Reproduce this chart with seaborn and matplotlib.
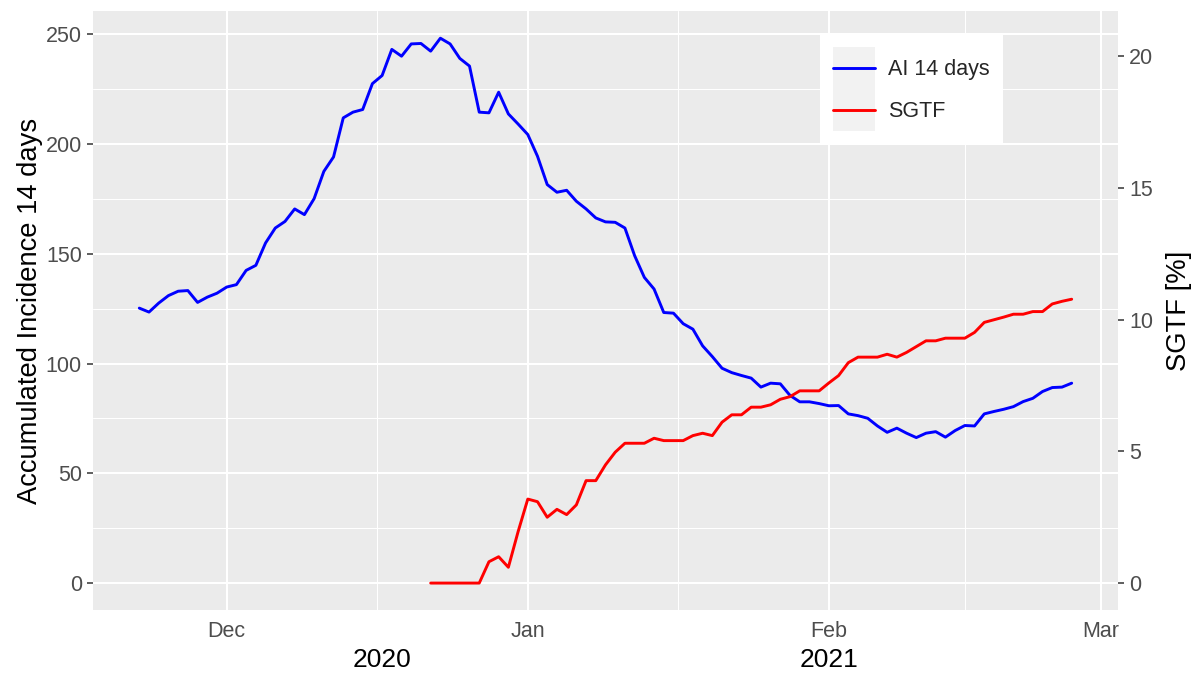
import pandas as pd
import numpy as np
import matplotlib
matplotlib.use("Agg")
import matplotlib.pyplot as plt
import matplotlib.dates as mdates
from matplotlib.ticker import FixedLocator, MultipleLocator
from matplotlib.patches import Patch
from matplotlib.lines import Line2D
from matplotlib.legend_handler import HandlerTuple, HandlerLine2D
import seaborn as sns

# ---------------- data ----------------
ai_start = "2020-11-22"
ai_14 = [
    # Nov 22 - Nov 30
    125.3, 123.5, 127.6, 131.0, 133.0, 133.3, 127.9, 130.3, 132.1,
    # Dec
    134.9, 136.0, 142.5, 144.8, 155.0, 161.8, 164.8, 170.5, 167.9, 175.2,
    187.6, 194.2, 212.0, 214.6, 215.8, 227.6, 231.3, 243.2, 240.1, 245.7,
    245.9, 242.4, 248.3, 245.7, 239.1, 235.6, 214.6, 214.3, 223.7, 213.8,
    209.2,
    # Jan
    204.4, 194.5, 181.6, 178.1, 179.0, 174.0, 170.5, 166.4, 164.6, 164.4,
    161.8, 149.2, 139.3, 134.0, 123.3, 123.0, 118.2, 115.7, 108.1, 103.2,
    97.9, 95.9, 94.6, 93.4, 89.3, 91.1, 90.8, 85.5, 82.6, 82.6, 81.8,
    # Feb 1 - Feb 26
    80.8, 80.9, 77.1, 76.3, 75.1, 71.6, 68.7, 70.6, 68.3, 66.3,
    68.3, 69.0, 66.5, 69.5, 71.8, 71.6, 77.1, 78.2, 79.2, 80.4,
    82.7, 84.2, 87.3, 89.1, 89.3, 91.1,
]

sgtf_start = "2020-12-22"
sgtf = [
    # Dec 22 - Dec 31
    0.0, 0.0, 0.0, 0.0, 0.0, 0.0, 0.81, 1.0, 0.6, 1.95,
    # Jan
    3.19, 3.09, 2.5, 2.8, 2.6, 2.97, 3.89, 3.89, 4.49, 4.97,
    5.31, 5.31, 5.31, 5.5, 5.41, 5.41, 5.41, 5.6, 5.69, 5.6,
    6.11, 6.39, 6.39, 6.68, 6.68, 6.77, 6.98, 7.08, 7.3, 7.3, 7.3,
    # Feb 1 - Feb 26
    7.6, 7.88, 8.37, 8.58, 8.58, 8.58, 8.69, 8.58, 8.76, 8.98,
    9.2, 9.2, 9.3, 9.3, 9.3, 9.52, 9.9, 10.0, 10.1, 10.21,
    10.21, 10.31, 10.31, 10.6, 10.7, 10.78,
]

SEC_FACTOR = 12  # left axis units per 1 % SGTF

month_breaks = ["2020-12-01", "2021-01-01", "2021-02-01", "2021-03-01"]
year_labels = ["2020", "2021"]
year_pos = ["2020-12-17", "2021-02-01"]

df_ai = pd.DataFrame({"date": pd.date_range(ai_start, periods=len(ai_14), freq="D"),
                      "ai": ai_14})
df_sg = pd.DataFrame({"date": pd.date_range(sgtf_start, periods=len(sgtf), freq="D"),
                      "sgtf": sgtf})

# ---------------- style ----------------
sns.set_style("darkgrid", {"axes.facecolor": "#EBEBEB", "grid.color": "white"})
plt.rcParams["font.family"] = ["Liberation Sans", "DejaVu Sans"]

TICK_COL = "#4D4D4D"
LW = 2.1
fig = plt.figure(figsize=(11.99, 6.77), dpi=100)
ax = fig.add_axes([0.0773, 0.0985, 0.9327 - 0.0773, 0.9838 - 0.0985])

sns.lineplot(data=df_ai, x="date", y="ai", ax=ax, color="blue", lw=LW, zorder=3)
ax2 = ax.twinx()
sns.lineplot(data=df_sg, x="date", y="sgtf", ax=ax2, color="red", lw=LW, zorder=3)

# limits with 5% expansion like ggplot
d0, d1 = mdates.date2num(df_ai["date"].min()), mdates.date2num(df_ai["date"].max())
dx = (d1 - d0) * 0.05
ax.set_xlim(d0 - dx, d1 + dx)
ymin = min(min(ai_14), min(sgtf) * SEC_FACTOR)
ymax = max(max(ai_14), max(sgtf) * SEC_FACTOR)
dy = (ymax - ymin) * 0.05
ax.set_ylim(ymin - dy, ymax + dy)
ax2.set_ylim((ymin - dy) / SEC_FACTOR, (ymax + dy) / SEC_FACTOR)

# ticks
majors = mdates.date2num(pd.to_datetime(month_breaks))
ax.xaxis.set_major_locator(FixedLocator(majors))
ax.xaxis.set_minor_locator(FixedLocator((majors[:-1] + majors[1:]) / 2))
ax.xaxis.set_major_formatter(mdates.DateFormatter("%b"))
ax.yaxis.set_major_locator(MultipleLocator(50))
ax.yaxis.set_minor_locator(MultipleLocator(25))
ax2.yaxis.set_major_locator(MultipleLocator(5))

ax.grid(which="major", color="white", lw=1.5)
ax.grid(which="minor", color="white", lw=0.75)
ax2.grid(False)
for a in (ax, ax2):
    for s in a.spines.values():
        s.set_visible(False)
    a.tick_params(which="major", length=4.2, width=1.1, color="#333333",
                  labelsize=15.5, labelcolor=TICK_COL, pad=3.5)
    a.tick_params(which="minor", length=0)

ax.set_xlabel("")
ax.set_ylabel("Accumulated Incidence 14 days", fontsize=19.7, color="black", labelpad=2)
ax2.set_ylabel("SGTF [%]", fontsize=19.7, color="black", labelpad=9)

# year labels under the month ticks
for lab, pos in zip(year_labels, year_pos):
    ax.text(mdates.date2num(pd.Timestamp(pos)), -0.083, lab, transform=ax.get_xaxis_transform(),
            ha="center", va="center", fontsize=19, color="black")


# legend with grey key background like ggplot
class CenteredLine(HandlerLine2D):
    # put the key line in the middle of the (tall) key box
    def create_artists(self, legend, orig_handle, xdescent, ydescent, width, height,
                       fontsize, trans):
        arts = super().create_artists(legend, orig_handle, xdescent, ydescent, width,
                                      height, fontsize, trans)
        for a in arts:
            a.set_ydata(np.full_like(np.asarray(a.get_xdata(), float), height / 2 - ydescent))
        return arts


key_bg = "#F2F2F2"
handles = [(Patch(fc=key_bg, ec="none"), Line2D([], [], color="blue", lw=LW)),
           (Patch(fc=key_bg, ec="none"), Line2D([], [], color="red", lw=LW))]
leg = ax2.legend(handles, ["AI 14 days", "SGTF"],
                 handler_map={tuple: HandlerTuple(ndivide=1, pad=0), Line2D: CenteredLine()},
                 loc="upper left", bbox_to_anchor=(0.709, 0.9616), borderaxespad=0,
                 fontsize=15.5, frameon=True, facecolor="white", edgecolor="none",
                 framealpha=1, fancybox=False, handlelength=1.95, handleheight=2.63,
                 labelspacing=0, handletextpad=0.6, borderpad=0.62)

fig.savefig("out.png", dpi=100)
